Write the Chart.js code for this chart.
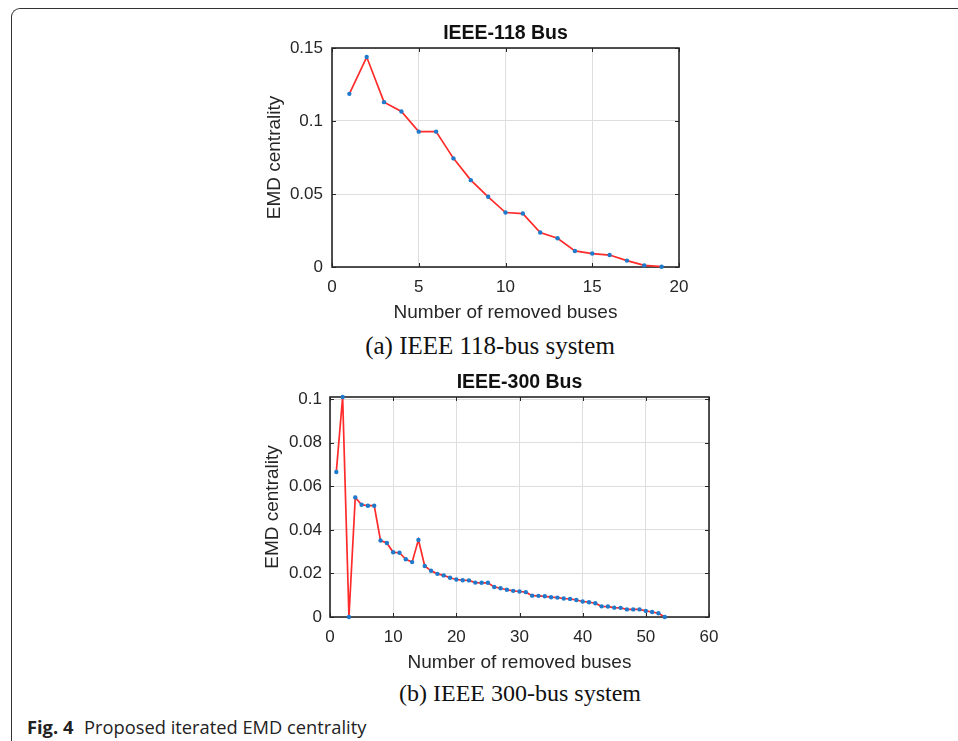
<!DOCTYPE html>
<html>
<head>
<meta charset="utf-8">
<title>Iterated EMD centrality</title>
<script src="https://cdn.jsdelivr.net/npm/chart.js@4.4.0/dist/chart.umd.min.js"></script>
<style>
  body { margin: 0; background: #fff; width: 958px; height: 741px; overflow: hidden; position: relative; }
  .frame { position: absolute; left: 11px; top: 8px; width: 1000px; height: 800px;
           border-top: 1.5px solid #333; border-left: 1.5px solid #333; border-top-left-radius: 9px; }
  canvas { position: absolute; }
  #c118 { left: 255px; top: 14px; }
  #c300 { left: 255px; top: 362px; }
  .sub { position: absolute; font-family: "Liberation Serif", "Times New Roman", serif; font-size: 24px;
         color: #111; white-space: nowrap; transform: translate(-50%, -50%); }
  .fig { position: absolute; left: 27px; top: 714px; font-family: "Open Sans", sans-serif; font-size: 18.3px; color: #222; white-space: nowrap; }
  .fig b { font-weight: 700; margin-right: 6px; }
</style>
</head>
<body>
<div class="frame"></div>
<canvas id="c118" width="450" height="310"></canvas>
<div class="sub" style="left:490px; top:346px; font-size:25px;">(a) IEEE 118-bus system</div>
<canvas id="c300" width="480" height="312"></canvas>
<div class="sub" style="left:520px; top:693px;">(b) IEEE 300-bus system</div>
<div class="fig"><b>Fig. 4</b> Proposed iterated EMD centrality</div>

<script>
// IEEE-118 bus data
const removed118 = [1, 2, 3, 4, 5, 6, 7, 8, 9, 10, 11, 12, 13, 14, 15, 16, 17, 18, 19];
const emd118 = [0.1186, 0.1438, 0.1129, 0.1065, 0.0927, 0.0927, 0.0744, 0.0595, 0.0481, 0.0373,
                0.0366, 0.0236, 0.0197, 0.0110, 0.0092, 0.0082, 0.0044, 0.0011, 0.0002];
const xTicks118 = [0, 5, 10, 15, 20];
const yTicks118 = [0, 0.05, 0.1, 0.15];
const yLabels118 = ['0', '0.05', '0.1', '0.15'];

// IEEE-300 bus data
const removed300 = [1, 2, 3, 4, 5, 6, 7, 8, 9, 10, 11, 12, 13, 14, 15, 16, 17, 18, 19, 20,
                    21, 22, 23, 24, 25, 26, 27, 28, 29, 30, 31, 32, 33, 34, 35, 36, 37, 38, 39, 40,
                    41, 42, 43, 44, 45, 46, 47, 48, 49, 50, 51, 52, 53];
const emd300 = [0.0666, 0.1010, 0.0000, 0.0549, 0.0515, 0.0511, 0.0511, 0.0351, 0.0340, 0.0297,
                0.0295, 0.0265, 0.0252, 0.0354, 0.0234, 0.0212, 0.0198, 0.0191, 0.0180, 0.0172,
                0.0169, 0.0168, 0.0158, 0.0157, 0.0157, 0.0138, 0.0132, 0.0125, 0.0120, 0.0117,
                0.0114, 0.0098, 0.0097, 0.0095, 0.0091, 0.0089, 0.0085, 0.0083, 0.0078, 0.0071,
                0.0068, 0.0063, 0.0049, 0.0048, 0.0043, 0.0042, 0.0035, 0.0035, 0.0035, 0.0028,
                0.0023, 0.0017, 0.0000];
const xTicks300 = [0, 10, 20, 30, 40, 50, 60];
const yTicks300 = [0, 0.02, 0.04, 0.06, 0.08, 0.1];
const yLabels300 = ['0', '0.02', '0.04', '0.06', '0.08', '0.1'];

const axisColor = '#262626';
const gridColor = '#dedede';
const sansFont = '"Liberation Sans", Arial, sans-serif';

// box around the plot with inward tick marks on all four sides,
// plus the bold title centred over the plot area
const matlabBox = {
  id: 'matlabBox',
  beforeDatasetsDraw(chart) {
    const { ctx, chartArea: a, scales } = chart;
    const len = 4;
    ctx.save();
    ctx.strokeStyle = axisColor;
    ctx.lineWidth = 1;
    scales.x.ticks.forEach(t => {
      const px = Math.round(scales.x.getPixelForValue(t.value)) + 0.5;
      ctx.beginPath();
      ctx.moveTo(px, a.bottom); ctx.lineTo(px, a.bottom - len);
      ctx.moveTo(px, a.top); ctx.lineTo(px, a.top + len);
      ctx.stroke();
    });
    scales.y.ticks.forEach(t => {
      const py = Math.round(scales.y.getPixelForValue(t.value)) + 0.5;
      ctx.beginPath();
      ctx.moveTo(a.left, py); ctx.lineTo(a.left + len, py);
      ctx.moveTo(a.right, py); ctx.lineTo(a.right - len, py);
      ctx.stroke();
    });
    ctx.lineWidth = 1.6;
    ctx.strokeRect(a.left, a.top, a.right - a.left, a.bottom - a.top);
    ctx.restore();
  },
  afterDraw(chart, args, opts) {
    const { ctx, chartArea: a } = chart;
    ctx.save();
    ctx.fillStyle = '#111';
    ctx.font = 'bold 19.5px ' + sansFont;
    ctx.textAlign = 'center';
    ctx.textBaseline = 'middle';
    ctx.fillText(opts.title, (a.left + a.right) / 2, a.top - opts.gap);
    ctx.restore();
  }
};

function makeChart(id, title, xs, ys, xTicks, yTicks, yLabels, xMax, yMax, cfg) {
  const points = xs.map((x, i) => ({ x: x, y: ys[i] }));
  return new Chart(document.getElementById(id), {
    type: 'line',
    data: {
      datasets: [{
        data: points,
        borderColor: '#ff2a2a',
        borderWidth: 1.7,
        pointRadius: 2.2,
        pointBackgroundColor: '#1f7acc',
        pointBorderWidth: 0,
        tension: 0,
        clip: false
      }]
    },
    options: {
      responsive: false,
      animation: false,
      events: [],
      layout: { padding: { left: 0, right: cfg.padRight, top: cfg.padTop, bottom: 0 } },
      plugins: {
        legend: { display: false },
        tooltip: { enabled: false },
        title: { display: false },
        matlabBox: { title: title, gap: cfg.titleGap }
      },
      scales: {
        x: {
          type: 'linear',
          min: 0,
          max: xMax,
          afterBuildTicks: s => { s.ticks = xTicks.map(v => ({ value: v })); },
          afterFit: s => { s.height = cfg.xHeight; },
          grid: { color: gridColor, drawTicks: false },
          border: { display: false },
          ticks: { color: axisColor, padding: cfg.xTickPad, font: { family: sansFont, size: 17 }, maxRotation: 0 },
          title: { display: true, text: 'Number of removed buses', color: axisColor,
                   font: { family: sansFont, size: 19 }, padding: { top: 0, bottom: 0 } }
        },
        y: {
          min: 0,
          max: yMax,
          afterBuildTicks: s => { s.ticks = yTicks.map(v => ({ value: v })); },
          afterFit: s => { s.width = cfg.yWidth; },
          grid: { color: gridColor, drawTicks: false },
          border: { display: false },
          ticks: {
            color: axisColor, padding: cfg.yTickPad, font: { family: sansFont, size: 17 },
            callback: (v) => {
              const i = yTicks.indexOf(v);
              return i >= 0 ? yLabels[i] : '';
            }
          },
          title: { display: true, text: 'EMD centrality', color: axisColor,
                   font: { family: sansFont, size: 19 }, padding: { top: cfg.yTitlePad, bottom: 0 } }
        }
      }
    },
    plugins: [matlabBox]
  });
}

makeChart('c118', 'IEEE-118 Bus', removed118, emd118, xTicks118, yTicks118, yLabels118, 20, 0.15,
  { padRight: 26, padTop: 34, titleGap: 14, xHeight: 57, yWidth: 77,
    xTickPad: 10, yTickPad: 9, yTitlePad: 8.6 });

makeChart('c300', 'IEEE-300 Bus', removed300, emd300, xTicks300, yTicks300, yLabels300, 60, 0.101,
  { padRight: 26, padTop: 35, titleGap: 14.3, xHeight: 57, yWidth: 75,
    xTickPad: 10, yTickPad: 8, yTitlePad: 6.3 });
</script>
</body>
</html>
